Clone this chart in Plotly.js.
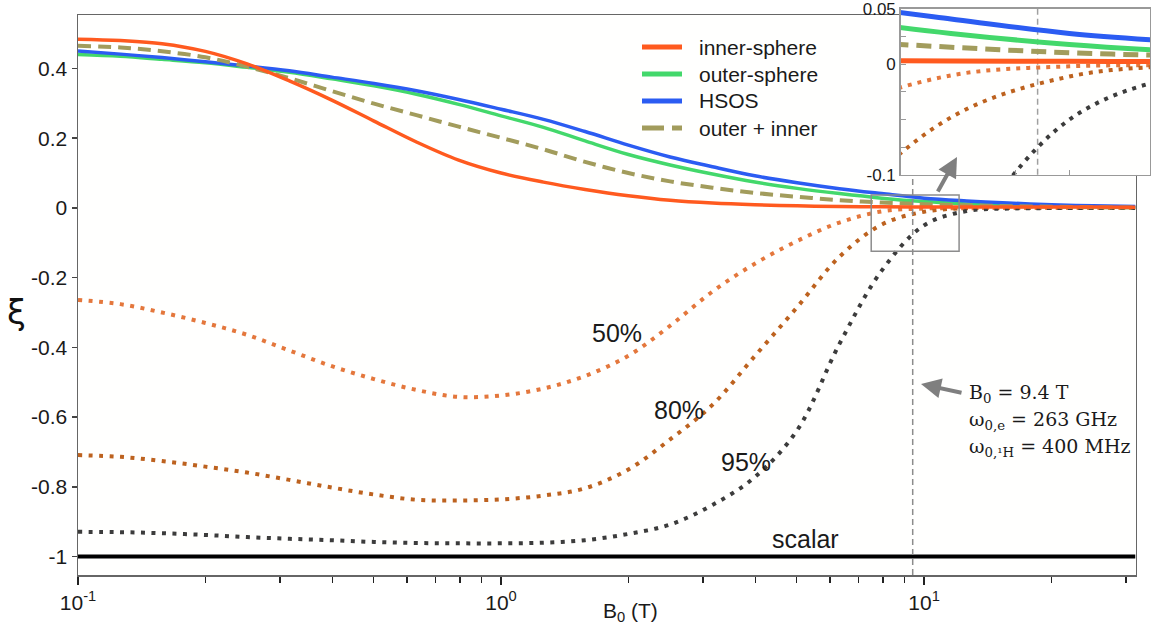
<!DOCTYPE html>
<html><head><meta charset="utf-8">
<script src="https://cdn.plot.ly/plotly-3.0.1.min.js"></script>
<style>html,body{margin:0;padding:0;background:#fff}#chart{width:1158px;height:630px}</style>
</head><body><div id="chart"></div>
<script>
// Magnetic field B0 (T)
const B0 = [0.1,0.126,0.158,0.2,0.251,0.316,0.398,0.501,0.631,0.794,1,1.26,1.58,2,2.51,3.16,3.98,5.01,6.31,7.94,10,12.6,15.8,20,25.1,31.6];
// coupling factor xi
const innerSphere = [0.484,0.480,0.471,0.449,0.413,0.364,0.309,0.249,0.189,0.137,0.100,0.074,0.053,0.035,0.022,0.014,0.009,0.006,0.004,0.003,0.0027,0.0026,0.0025,0.0024,0.0023,0.0022];
const outerSphere = [0.440,0.435,0.426,0.416,0.403,0.389,0.370,0.350,0.326,0.297,0.264,0.231,0.192,0.153,0.123,0.097,0.074,0.056,0.041,0.028,0.018,0.0115,0.0075,0.005,0.003,0.002];
const hsos = [0.450,0.441,0.431,0.419,0.407,0.393,0.375,0.357,0.336,0.311,0.283,0.254,0.219,0.180,0.146,0.118,0.092,0.072,0.055,0.041,0.028,0.020,0.014,0.009,0.006,0.004];
const outerPlusInner = [0.465,0.460,0.449,0.432,0.405,0.372,0.335,0.299,0.266,0.233,0.201,0.168,0.132,0.100,0.076,0.058,0.043,0.032,0.022,0.0155,0.0105,0.0075,0.005,0.0035,0.002,0.001];
const pct50 = [-0.264,-0.276,-0.300,-0.330,-0.364,-0.409,-0.454,-0.491,-0.522,-0.542,-0.538,-0.518,-0.482,-0.424,-0.338,-0.240,-0.160,-0.095,-0.042,-0.010,-0.0018,-0.0008,-0.0004,-0.0002,0,0];
const pct80 = [-0.709,-0.714,-0.726,-0.742,-0.759,-0.780,-0.802,-0.822,-0.837,-0.839,-0.836,-0.825,-0.804,-0.750,-0.664,-0.565,-0.425,-0.285,-0.140,-0.048,-0.011,-0.001,0,0,0,0];
const pct95 = [-0.929,-0.930,-0.933,-0.938,-0.944,-0.949,-0.953,-0.958,-0.961,-0.962,-0.962,-0.960,-0.953,-0.935,-0.908,-0.852,-0.772,-0.638,-0.390,-0.180,-0.050,-0.009,-0.002,-0.0005,0,0];
const scalarX = [0.1, 31.6];
const scalarY = [-1, -1];

const seriesNames = ['inner-sphere','outer-sphere','HSOS','outer + inner'];
const curveLabels = ['50%','80%','95%','scalar'];
const yTickVals = [-1,-0.8,-0.6,-0.4,-0.2,0,0.2,0.4];
const yTickText = ['-1','-0.8','-0.6','-0.4','-0.2','0','0.2','0.4'];
const xTickVals = [0.1,1,10];
const xTickText = ['10<sup>-1</sup>','10<sup>0</sup>','10<sup>1</sup>'];
const xMinorVals = [0.2,0.3,0.4,0.5,0.6,0.7,0.8,0.9,2,3,4,5,6,7,8,9,20,30];
const insetYVals = [-0.1,0,0.05];
const insetYText = ['-0.1','0','0.05'];
const insetYMinor = [-0.075,-0.05,-0.025,0.025];
const insetXVals = [8,9,10];

const C = {inner:'#ff5a1f', outer:'#43d86b', hsos:'#2b5cf2', olive:'#a29c5c', p50:'#e4773c', p80:'#bd621f', p95:'#3c3c3c'};
const dotDash = '4px,6.5px';

function mk(y, color, width, dash, name, ax){
  return {x:B0, y:y, mode:'lines', name:name||'', showlegend:false,
    line:{color:color, width:width, dash:dash||'solid', shape:'spline', smoothing:1},
    xaxis:ax?'x2':'x', yaxis:ax?'y2':'y', hoverinfo:'skip'};
}

const traces = [
  mk(pct50, C.p50, 4, dotDash, '50%'),
  mk(pct80, C.p80, 4, dotDash, '80%'),
  mk(pct95, C.p95, 4, dotDash, '95%'),
  {x:scalarX, y:scalarY, mode:'lines', name:'scalar', showlegend:false, line:{color:'#000', width:4}, hoverinfo:'skip'},
  mk(outerSphere, C.outer, 3.5, 'solid', seriesNames[1]),
  mk(hsos, C.hsos, 3.5, 'solid', seriesNames[2]),
  mk(outerPlusInner, C.olive, 4, '13px,7px', seriesNames[3]),
  mk(innerSphere, C.inner, 3.5, 'solid', seriesNames[0]),
  // inset
  mk(pct50, C.p50, 4, '4px,6px', '50%', 1),
  mk(pct80, C.p80, 4, '4px,6px', '80%', 1),
  mk(pct95, C.p95, 4, '4px,6px', '95%', 1),
  mk(outerSphere, C.outer, 5, 'solid', seriesNames[1], 1),
  mk(hsos, C.hsos, 5, 'solid', seriesNames[2], 1),
  mk(outerPlusInner, C.olive, 5, '15px,8px', seriesNames[3], 1),
  mk(innerSphere, C.inner, 5, 'solid', seriesNames[0], 1)
];

// paper helpers (plot area: x 78..1153, y 5..575)
const px = v => (v-78)/1075;
const py = v => (575-v)/570;
function txt(x, y, t, size, extra){
  return Object.assign({xref:'paper', yref:'paper', x:px(x), y:py(y), text:t, showarrow:false,
    xanchor:'center', yanchor:'middle', font:{size:size}}, extra||{});
}
const serif = {size:19, family:'"DejaVu Serif", "Liberation Serif", serif', color:'#1a1a1a'};

// legend (drawn as key lines + labels)
const legendColors = [C.inner, C.outer, C.hsos, C.olive];
const legendDash = ['solid','solid','solid','22px,8px'];
const legendRows = [47, 74, 101, 128];
const legendShapes = legendRows.map((r,i) => ({type:'line', xref:'paper', yref:'paper',
  x0:px(642), x1:px(682), y0:py(r), y1:py(r), line:{color:legendColors[i], width:5, dash:legendDash[i]}, layer:'above'}));
const legendTexts = legendRows.map((r,i) => txt(697, r, seriesNames[i], 21, {xanchor:'left', font:{size:21, color:'#1a1a1a'}}));

const layout = {
  width:1158, height:630,
  margin:{l:78, r:5, t:5, b:55, pad:0},
  paper_bgcolor:'#ffffff', plot_bgcolor:'#fffffe',
  font:{family:'Arial, "Liberation Sans", sans-serif', size:21, color:'#1a1a1a'},
  showlegend:false,
  xaxis:{type:'log', domain:[0,0.9838], range:[-1,1.5], showgrid:false, zeroline:false,
         showline:true, mirror:true, linecolor:'#666', linewidth:1.5,
         ticks:'outside', ticklen:8, tickwidth:1.5, tickcolor:'#222',
         tickmode:'array', tickvals:xTickVals, ticktext:xTickText, tickfont:{size:21},
         minor:{tickmode:'array', tickvals:xMinorVals, ticks:'outside', ticklen:6, tickwidth:1.5, tickcolor:'#222', showgrid:false}},
  yaxis:{domain:[0,0.9816], range:[-1.0528,0.5518], showgrid:false, zeroline:false,
         showline:true, mirror:true, linecolor:'#666', linewidth:1.5,
         ticks:'outside', ticklen:5, tickwidth:1.5, tickcolor:'#444',
         tickmode:'array', tickvals:yTickVals, ticktext:yTickText, tickfont:{size:21}},
  xaxis2:{type:'log', domain:[0.7653,0.9972], range:[Math.log10(7.2), Math.log10(11.7)], anchor:'y2',
          showgrid:false, zeroline:false, showline:true, mirror:true, linecolor:'#999', linewidth:1.5,
          ticks:'inside', ticklen:5, tickcolor:'#999', tickmode:'array', tickvals:insetXVals, showticklabels:false},
  yaxis2:{domain:[0.7018,0.993], range:[-0.1001,0.0501], anchor:'x2',
          showgrid:false, zeroline:false, showline:true, mirror:true, linecolor:'#999', linewidth:1.5,
          ticks:'inside', ticklen:5, tickcolor:'#999', tickmode:'array', tickvals:insetYVals, ticktext:insetYText,
          tickfont:{size:17},
          minor:{tickmode:'array', tickvals:insetYMinor, ticks:'inside', ticklen:5, tickcolor:'#999', showgrid:false}},
  shapes:[
    {type:'line', xref:'x', yref:'y', x0:9.4, x1:9.4, y0:-1.0528, y1:0.094, line:{color:'#8c8c8c', width:1.5, dash:'6px,4px'}, layer:'above'},
    {type:'line', xref:'x2', yref:'y2', x0:9.4, x1:9.4, y0:-0.1, y1:0.05, line:{color:'#a0a0a0', width:1.5, dash:'6px,4px'}, layer:'below'},
    {type:'rect', xref:'x', yref:'y', x0:7.5, x1:12.1, y0:-0.124, y1:0.037, line:{color:'#8c8c8c', width:1.5}, layer:'above'}
  ].concat(legendShapes),
  annotations:[
    txt(631, 612, 'B<sub>0</sub> (T)', 21),
    txt(16, 312, 'ξ', 34, {font:{size:34, family:'"DejaVu Sans", Arial', color:'#111'}}),
    txt(617, 333, curveLabels[0], 25),
    txt(679, 410, curveLabels[1], 25),
    txt(746, 462, curveLabels[2], 25),
    txt(805, 539, curveLabels[3], 25),
    {xref:'paper', yref:'paper', x:px(921), y:py(384), ax:42, ay:9, text:'', showarrow:true, arrowhead:2, arrowsize:1, arrowwidth:4, arrowcolor:'#7f7f7f'},
    {xref:'paper', yref:'paper', x:px(957), y:py(157), ax:-20, ay:36, text:'', showarrow:true, arrowhead:2, arrowsize:1, arrowwidth:4, arrowcolor:'#7f7f7f'},
    txt(967, 393, 'B<sub>0</sub> = 9.4 T', 19, {xanchor:'left', font:serif}),
    txt(967, 420, 'ω<sub>0,e</sub> = 263 GHz', 19, {xanchor:'left', font:serif}),
    txt(967, 447, 'ω<sub>0,¹H</sub> = 400 MHz', 19, {xanchor:'left', font:serif})
  ].concat(legendTexts)
};

Plotly.newPlot('chart', traces, layout, {displayModeBar:false, staticPlot:true});
</script></body></html>
